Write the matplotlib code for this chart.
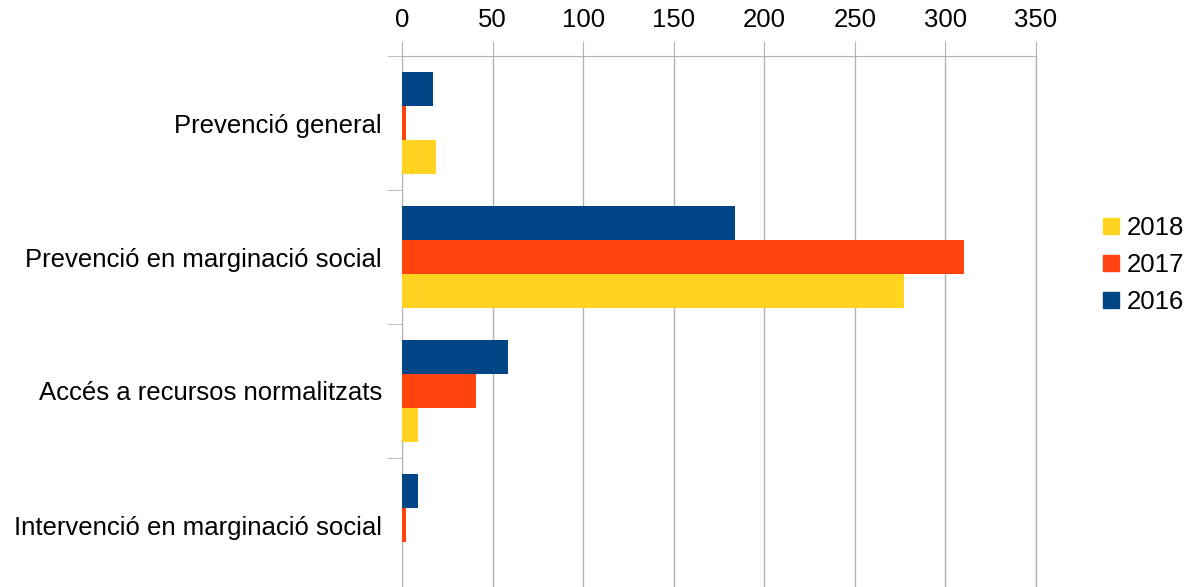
import matplotlib
matplotlib.use("Agg")
import matplotlib.pyplot as plt
from matplotlib.patches import Patch
import numpy as np

categories = ["Prevenció general", "Prevenció en marginació social",
              "Accés a recursos normalitzats", "Intervenció en marginació social"]
years = ["2016", "2017", "2018"]
values_2016 = [17, 184, 58.5, 9]
values_2017 = [2, 310, 41, 2]
values_2018 = [19, 277, 9, 0]
colors = {"2016": "#004586", "2017": "#ff420e", "2018": "#ffd320"}
x_ticks = [0, 50, 100, 150, 200, 250, 300, 350]

plt.rcParams['font.family'] = ['Liberation Sans', 'DejaVu Sans']
FS = 18.5

fig = plt.figure(figsize=(11.92, 5.87), dpi=100)
ax = fig.add_axes([402/1192, -5/587, (1036-402)/1192, (587-56+5)/587])

y = np.arange(len(categories))
h = 0.254
series = [("2016", values_2016, -h), ("2017", values_2017, 0), ("2018", values_2018, h)]
for name, vals, off in series:
    ax.barh(y + off, vals, height=h, color=colors[name], zorder=3)

ax.set_ylim(len(categories) - 0.5, -0.5)
ax.set_xlim(0, 350)
ax.xaxis.tick_top()
ax.set_xticks(x_ticks)
ax.set_xticklabels([str(t) for t in x_ticks])
ax.tick_params(axis='x', which='major', length=11, color='#b3b3b3', pad=6, labelsize=FS)
ax.set_yticks(y)
ax.set_yticklabels(categories)
ax.tick_params(axis='y', which='major', length=0, pad=14.5, labelsize=FS)
ax.set_yticks(np.arange(-0.5, len(categories) + 0.5, 1.0), minor=True)
ax.tick_params(axis='y', which='minor', length=11, color='#b3b3b3')
ax.grid(axis='x', color='#b3b3b3', linewidth=1, zorder=0)
ax.axvline(350, color='#b3b3b3', linewidth=1, zorder=0, clip_on=False)
for s in ['right', 'bottom']:
    ax.spines[s].set_visible(False)
for s in ['left', 'top']:
    ax.spines[s].set_color('#b3b3b3')

handles = [Patch(color=colors[n], label=n) for n in ["2018", "2017", "2016"]]
fig.legend(handles=handles, loc='center left', bbox_to_anchor=(1080/1192, 1-265/587),
           frameon=False, fontsize=FS, handlelength=0.6, handleheight=0.6,
           handletextpad=0.3, labelspacing=0.5)

fig.savefig("out.png", dpi=100)
